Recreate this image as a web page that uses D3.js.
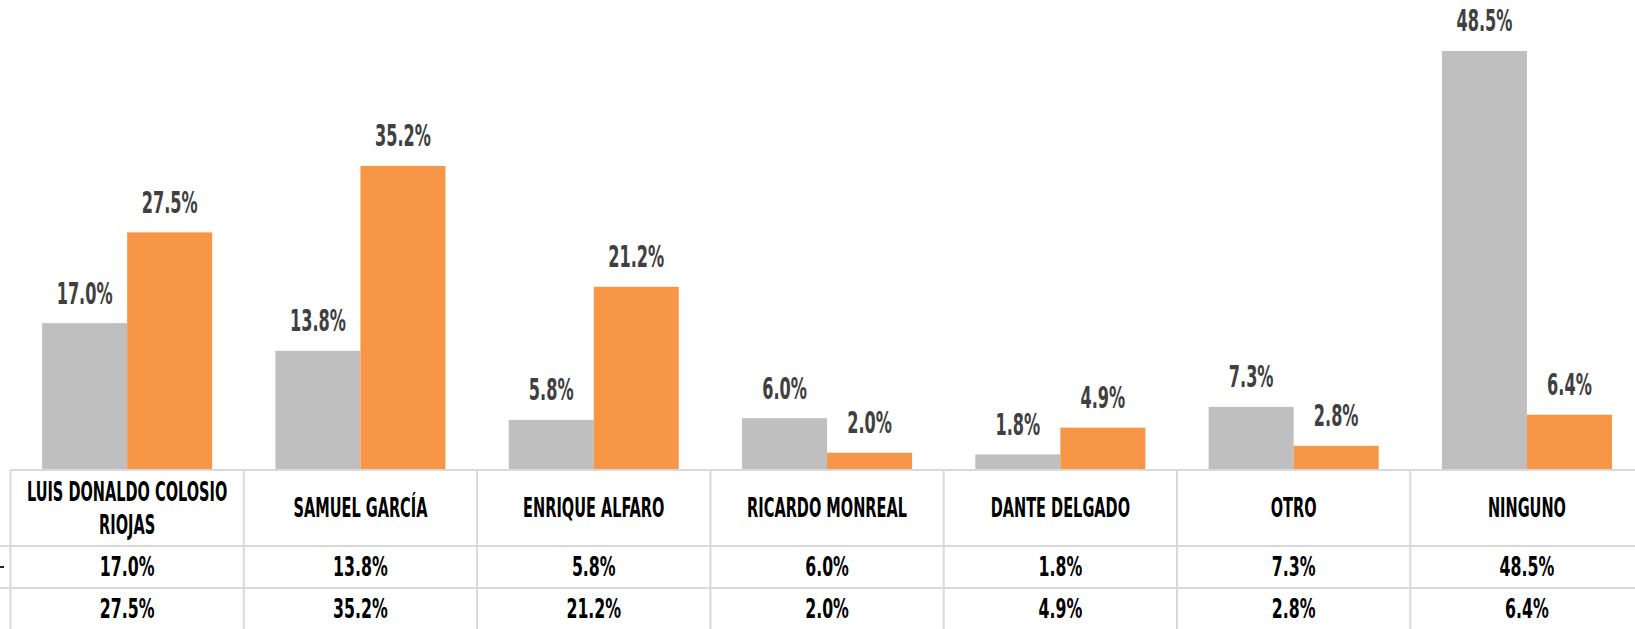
<!DOCTYPE html>
<html lang="es">
<head>
<meta charset="utf-8">
<title>Preferencias</title>
<script src="https://d3js.org/d3.v7.min.js"></script>
<style>
  body { margin: 0; background: #fff; overflow: hidden; }
  svg text { font-family: "Liberation Sans Narrow", "DejaVu Sans Condensed", "Roboto", sans-serif; font-weight: bold; }
</style>
</head>
<body>
<svg id="chart" width="1635" height="629"></svg>
<script>
// data
var categories = ["LUIS DONALDO COLOSIO RIOJAS", "SAMUEL GARCÍA", "ENRIQUE ALFARO", "RICARDO MONREAL", "DANTE DELGADO", "OTRO", "NINGUNO"];
var seriesKeys = ["s1", "s2"];
var series1 = [17.0, 13.8, 5.8, 6.0, 1.8, 7.3, 48.5];
var series2 = [27.5, 35.2, 21.2, 2.0, 4.9, 2.8, 6.4];
var colors = ["#bfbfbf", "#f79646"];

var svg = d3.select("#chart");
var base = 470;          // bottom of the plot / top of table
var rowH = [76, 42, 42];  // table rows
var fmt = function (v) { return d3.format(".1f")(v) + "%"; };

var x0 = d3.scaleBand().domain(categories).range([10.5, 10.5 + 233.3 * 7]);
var x1 = d3.scaleBand().domain(seriesKeys).range([0, x0.bandwidth()]).paddingOuter(0.372);
var y = d3.scaleLinear().domain([0, 54.4]).range([base, 0]);

var rows = categories.map(function (c, i) {
  return { cat: c, vals: [{ k: "s1", v: series1[i] }, { k: "s2", v: series2[i] }] };
});

// measure helper, used to squeeze text to the condensed look
function widthOf(str, size) {
  var t = svg.append("text").attr("font-size", size).text(str);
  var w = t.node().getComputedTextLength();
  t.remove();
  return w;
}
var labelSize = 30, tableSize = 27;
var sxLabel = 56 / widthOf("17.0%", labelSize);
var sxTable = 54.7 / widthOf("17.0%", tableSize);
var sxHead = 134 / widthOf("SAMUEL GARCÍA", tableSize);

// bars
var g = svg.append("g");
var groups = g.selectAll("g.grp").data(rows).enter().append("g")
  .attr("class", "grp")
  .attr("transform", function (d) { return "translate(" + x0(d.cat) + ",0)"; });

groups.selectAll("rect").data(function (d) { return d.vals; }).enter().append("rect")
  .attr("x", function (d) { return x1(d.k); })
  .attr("y", function (d) { return y(d.v); })
  .attr("width", x1.bandwidth())
  .attr("height", function (d) { return base - y(d.v); })
  .attr("fill", function (d, i) { return colors[i]; });

groups.selectAll("text.lbl").data(function (d) { return d.vals; }).enter().append("text")
  .attr("class", "lbl")
  .attr("text-anchor", "middle")
  .attr("font-size", labelSize)
  .attr("fill", "#404040")
  .attr("transform", function (d) {
    return "translate(" + (x1(d.k) + x1.bandwidth() / 2) + "," + (y(d.v) - 19.5) + ") scale(" + sxLabel + ",1)";
  })
  .text(function (d) { return fmt(d.v); });

// data table
var t = svg.append("g").attr("stroke", "#d9d9d9").attr("stroke-width", 2);
var xr = x0.range();
var rowY = [base, base + rowH[0], base + rowH[0] + rowH[1], base + rowH[0] + rowH[1] + rowH[2]];
t.append("line").attr("x1", xr[0]).attr("x2", xr[1]).attr("y1", rowY[0]).attr("y2", rowY[0]);
t.append("line").attr("x1", 0).attr("x2", xr[1]).attr("y1", rowY[1]).attr("y2", rowY[1]);
t.append("line").attr("x1", 0).attr("x2", xr[1]).attr("y1", rowY[2]).attr("y2", rowY[2]);
categories.concat([null]).forEach(function (c, i) {
  var xx = c ? x0(c) : xr[1];
  t.append("line").attr("x1", xx).attr("x2", xx).attr("y1", rowY[0]).attr("y2", 640);
});

// legend key stub at far left (cut off)
svg.append("line").attr("x1", 0).attr("x2", 4).attr("y1", 567).attr("y2", 567)
  .attr("stroke", "#222").attr("stroke-width", 2);

var cells = svg.append("g").selectAll("g.cell").data(rows).enter().append("g")
  .attr("transform", function (d) { return "translate(" + (x0(d.cat) + x0.bandwidth() / 2) + ",0)"; });

// header with simple word wrap
cells.each(function (d) {
  var words = d.cat.split(" "), lines = [], cur = "";
  var maxW = 205 / sxHead;
  words.forEach(function (w) {
    var test = cur ? cur + " " + w : w;
    if (cur && widthOf(test, tableSize) > maxW) { lines.push(cur); cur = w; } else { cur = test; }
  });
  lines.push(cur);
  var pitch = 33;
  var mid = base + rowH[0] / 2 + 9;
  var first = mid - (lines.length - 1) * pitch / 2;
  var sel = d3.select(this);
  lines.forEach(function (ln, j) {
    sel.append("text")
      .attr("text-anchor", "middle")
      .attr("font-size", tableSize)
      .attr("fill", "#000")
      .attr("transform", "translate(0," + (first + j * pitch) + ") scale(" + sxHead + ",1)")
      .text(ln);
  });
});

[series1, series2].forEach(function (s, r) {
  cells.append("text")
    .attr("text-anchor", "middle")
    .attr("font-size", tableSize)
    .attr("fill", "#000")
    .attr("transform", function (d, i) {
      return "translate(0," + (rowY[r + 1] + rowH[r + 1] / 2 + 9) + ") scale(" + sxTable + ",1)";
    })
    .text(function (d, i) { return fmt(s[i]); });
});
</script>
</body>
</html>
